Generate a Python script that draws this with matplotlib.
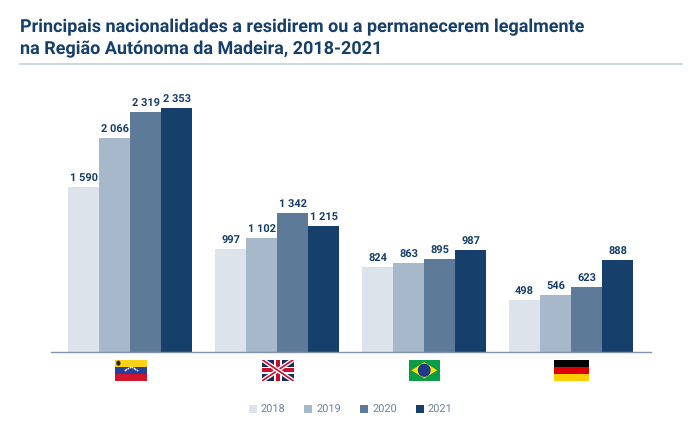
import numpy as np
import matplotlib
matplotlib.use("Agg")
import matplotlib.pyplot as plt
import matplotlib.patches as patches

plt.rcParams["font.family"] = ["Roboto", "DejaVu Sans"]
plt.rcParams["text.hinting"] = "no_hinting"
plt.rcParams["text.hinting_factor"] = 1

W, H = 700, 433

countries = ["Venezuela", "Reino Unido", "Brasil", "Alemanha"]
years = ["2018", "2019", "2020", "2021"]
v_2018 = [1590, 997, 824, 498]
v_2019 = [2066, 1102, 863, 546]
v_2020 = [2319, 1342, 895, 623]
v_2021 = [2353, 1215, 987, 888]

colors = ["#dce3ea", "#a6b8c9", "#5e7a99", "#163f6b"]
NAVY = "#163f6b"
GREY = "#6d829b"


def flag_ax(fig, x0, y0, x1, y1):
    # pixel box, y measured from the top
    a = fig.add_axes([x0 / W, 1 - y1 / H, (x1 - x0) / W, (y1 - y0) / H])
    a.set_xlim(0, 1)
    a.set_ylim(0, 1)
    a.axis("off")
    return a


def stripes(a, cols):
    n = len(cols)
    for i, c in enumerate(cols):
        a.add_patch(patches.Rectangle((0, 1 - (i + 1) / n), 1, 1 / n, color=c, lw=0))


def venezuela(a):
    stripes(a, ["#fcd116", "#24409a", "#cf142b"])
    t = np.linspace(0.2, 0.8, 8) * np.pi
    a.scatter(0.5 + 0.22 * np.cos(t), 0.34 + 0.3 * np.sin(t), s=1.6, c="white", lw=0)
    a.add_patch(patches.Ellipse((0.12, 0.83), 0.13, 0.24, color="#1c2a30", lw=0))


def uk(a):
    a.add_patch(patches.Rectangle((0, 0), 1, 1, color="#1b2a5e", lw=0))
    for xs, ys in [([0, 1], [0, 1]), ([0, 1], [1, 0])]:
        a.plot(xs, ys, color="white", lw=3.2, solid_capstyle="butt")
        a.plot(xs, ys, color="#c8102e", lw=1.2, solid_capstyle="butt")
    a.add_patch(patches.Rectangle((0.38, 0), 0.24, 1, color="white", lw=0))
    a.add_patch(patches.Rectangle((0, 0.33), 1, 0.34, color="white", lw=0))
    a.add_patch(patches.Rectangle((0.44, 0), 0.12, 1, color="#c8102e", lw=0))
    a.add_patch(patches.Rectangle((0, 0.41), 1, 0.18, color="#c8102e", lw=0))


def brazil(a):
    a.add_patch(patches.Rectangle((0, 0), 1, 1, color="#0b9c45", lw=0))
    a.add_patch(patches.Polygon([(0.08, 0.5), (0.5, 0.88), (0.92, 0.5), (0.5, 0.12)],
                                color="#fedf00", lw=0))
    a.add_patch(patches.Ellipse((0.5, 0.5), 0.42, 0.62, color="#1d3a8a", lw=0))


def germany(a):
    stripes(a, ["#000000", "#dd0000", "#ffce00"])


fig = plt.figure(figsize=(W / 100, H / 100), dpi=100, facecolor="white")

# axes spans the baseline rule, 51-651 px across and 352 px down
ax = fig.add_axes([51 / W, 1 - 352 / H, 600 / W, 262 / H])
x = np.arange(len(countries))
step = 147.0
bw = 31 / step
series = [v_2018, v_2019, v_2020, v_2021]

for i, vals in enumerate(series):
    pos = x + (i - 1.5) * bw
    ax.bar(pos, vals, bw, color=colors[i], label=years[i], linewidth=0)
    for p, v in zip(pos, vals):
        txt = f"{v:,}".replace(",", " ")
        ax.annotate(txt, (p, v), xytext=(0, 2), textcoords="offset points",
                    ha="center", va="bottom", fontsize=8.2, fontweight="bold", color=NAVY)

ax.set_xlim((51 - 130) / step, (651 - 130) / step)
ax.set_ylim(0, 262 / 0.1037)
ax.set_xticks([])
ax.set_yticks([])
for name, spine in ax.spines.items():
    spine.set_visible(name == "bottom")
ax.spines["bottom"].set_color("#8093a8")
ax.spines["bottom"].set_linewidth(1.0)
ax.patch.set_alpha(0)

# title and rule
fig.text(20 / W, 1 - 27.5 / H, "Principais nacionalidades a residirem ou a permanecerem legalmente",
         fontsize=12.9, fontweight="bold", color=NAVY, va="center", ha="left")
fig.text(20 / W, 1 - 49 / H, "na Região Autónoma da Madeira, 2018-2021",
         fontsize=12.9, fontweight="bold", color=NAVY, va="center", ha="left")
fig.add_artist(plt.Line2D([20 / W, 682 / W], [1 - 64 / H, 1 - 64 / H], color="#c3cdd9", lw=1.2))

# flags
venezuela(flag_ax(fig, 114.5, 359.5, 147, 381))
uk(flag_ax(fig, 262, 359.5, 293.5, 381))
brazil(flag_ax(fig, 409, 359.5, 439.5, 381))
germany(flag_ax(fig, 553.5, 359.5, 589, 381))

# legend
leg = fig.legend(loc="center", bbox_to_anchor=(350.5 / W, 1 - 410 / H), ncols=4, frameon=False,
                 fontsize=7.8, handlelength=0.74, handleheight=0.74, handletextpad=0.37,
                 columnspacing=1.75, labelcolor=GREY)

fig.savefig("out.png", dpi=100, facecolor="white")
